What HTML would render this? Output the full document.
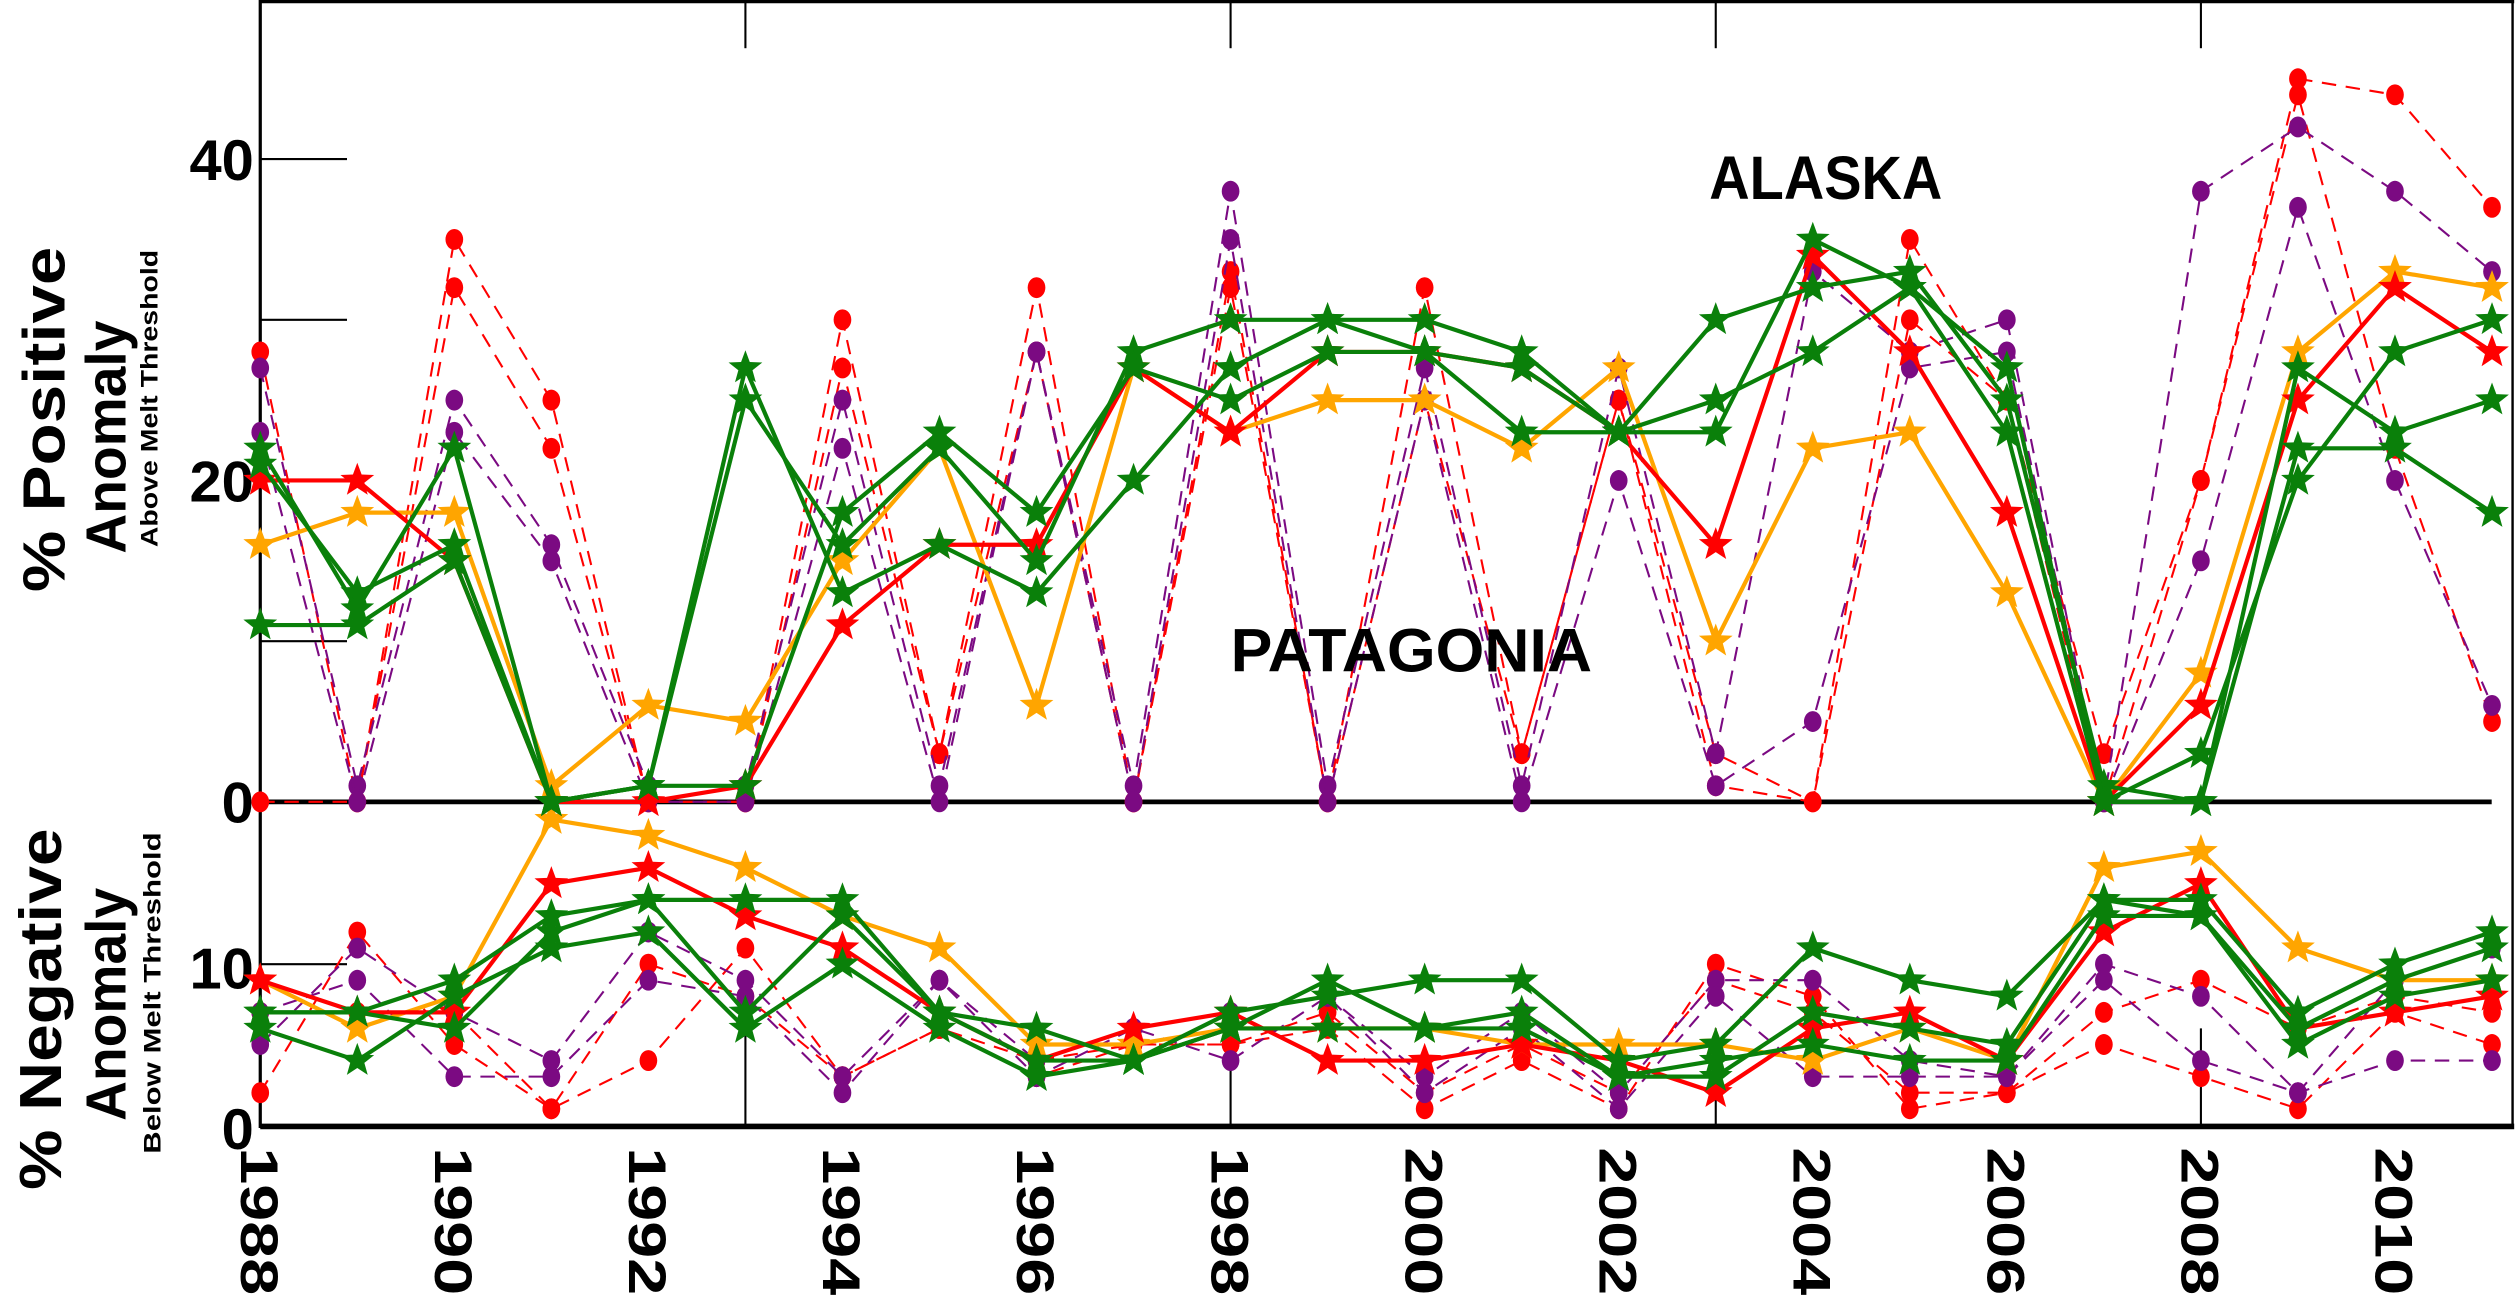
<!DOCTYPE html>
<html><head><meta charset="utf-8"><style>
html,body{margin:0;padding:0;background:#fff;}
svg{display:block;}
text{font-family:"Liberation Sans",sans-serif;}
</style></head>
<body>
<svg id="chart" width="2519" height="1300" viewBox="0 0 1568 809" preserveAspectRatio="none" xmlns="http://www.w3.org/2000/svg">
  <rect x="0" y="0" width="1568" height="809" fill="#fff"/>
  <g id="frame">
    <line x1="162" y1="0" x2="162" y2="702" stroke="#000" stroke-width="2"/>
    <line x1="162" y1="1" x2="1565" y2="1" stroke="#000" stroke-width="2"/>
    <line x1="1564" y1="0" x2="1564" y2="702" stroke="#000" stroke-width="1.5"/>
    <line x1="162" y1="701" x2="1565" y2="701" stroke="#000" stroke-width="3.5"/>
    <line x1="162" y1="499" x2="1551" y2="499" stroke="#000" stroke-width="3"/>
  </g>
  <g id="ticks"></g>
  <g id="series"></g>
  <text x="1064" y="124" font-size="38" font-weight="bold" textLength="145" lengthAdjust="spacingAndGlyphs">ALASKA</text>
  <text x="766" y="418" font-size="38" font-weight="bold" textLength="225" lengthAdjust="spacingAndGlyphs">PATAGONIA</text>
  <g>
    <text transform="translate(40,261) rotate(-90)" text-anchor="middle" font-size="37" font-weight="bold" textLength="215" lengthAdjust="spacingAndGlyphs">% Positive</text>
    <text transform="translate(78,272) rotate(-90)" text-anchor="middle" font-size="35" font-weight="bold" textLength="145" lengthAdjust="spacingAndGlyphs">Anomaly</text>
    <text transform="translate(98,248) rotate(-90)" text-anchor="middle" font-size="15" font-weight="bold" textLength="185" lengthAdjust="spacingAndGlyphs">Above Melt Threshold</text>
  </g>
  <g>
    <text transform="translate(38,628) rotate(-90)" text-anchor="middle" font-size="37" font-weight="bold" textLength="225" lengthAdjust="spacingAndGlyphs">% Negative</text>
    <text transform="translate(78,625) rotate(-90)" text-anchor="middle" font-size="35" font-weight="bold" textLength="145" lengthAdjust="spacingAndGlyphs">Anomaly</text>
    <text transform="translate(100,618) rotate(-90)" text-anchor="middle" font-size="15" font-weight="bold" textLength="200" lengthAdjust="spacingAndGlyphs">Below Melt Threshold</text>
  </g>
</svg>
<script>
const years = [1988,1989,1990,1991,1992,1993,1994,1995,1996,1997,1998,1999,2000,2001,2002,2003,2004,2005,2006,2007,2008,2009,2010,2011];
const posTickValues = [0,20,40];
const negTickValues = [0,10];
const yearTickLabels = [1988,1990,1992,1994,1996,1998,2000,2002,2004,2006,2008,2010];

// positive panel (above melt threshold)
const posRedStar = [20,20,15,0,0,1,11,16,16,27,23,28,28,27,23,16,34,28,18,0,6,25,32,28];
const posOrangeStar = [16,18,18,1,6,5,15,22,6,27,23,25,25,22,27,10,22,23,13,0,8,28,33,32];
const posGreenStarA = [21,13,16,0,1,25,16,22,15,28,30,30,30,28,23,30,32,33,25,1,0,27,23,25];
const posGreenStarB = [11,11,15,0,1,1,18,23,18,27,25,28,28,23,23,23,35,32,27,0,3,20,28,30];
const posGreenStarC = [22,12,22,0,1,27,13,16,13,20,27,30,28,27,23,25,28,32,23,0,0,22,22,18];
const posRedDotA = [28,0,35,25,0,0,30,3,32,0,33,0,32,3,25,3,0,35,25,3,20,45,44,37];
const posRedDotB = [0,0,32,22,0,0,27,3,28,0,32,0,25,3,25,1,0,30,25,0,20,44,22,5];
const posPurpleDotA = [27,1,25,16,1,1,25,1,28,1,38,1,27,1,27,3,33,28,30,0,38,42,38,33];
const posPurpleDotB = [23,0,23,15,0,0,22,0,28,0,35,0,25,0,20,1,5,27,28,0,15,37,20,6];

// negative panel (below melt threshold)
const negRedStar = [9,7,7,15,16,13,11,7,4,6,7,4,4,5,4,2,6,7,4,12,15,6,7,8];
const negOrangeStar = [9,6,8,19,18,16,13,11,5,5,6,6,6,5,5,5,4,6,4,16,17,11,9,9];
const negGreenStarA = [7,7,9,13,14,14,14,7,6,4,7,8,9,9,4,5,11,9,8,14,14,7,10,12];
const negGreenStarB = [6,4,8,11,12,6,10,6,3,4,6,9,6,7,3,4,5,4,4,13,13,5,8,9];
const negGreenStarC = [7,7,6,12,14,7,13,7,4,4,6,6,6,6,3,3,7,6,5,14,13,6,9,11];
const negRedDotA = [2,12,5,1,4,11,3,6,4,5,5,6,1,4,1,10,8,1,2,7,9,6,8,7];
const negRedDotB = [7,7,7,1,10,8,3,6,3,5,5,7,2,5,2,9,7,2,2,5,3,1,7,5];
const negPurpleDotA = [5,11,7,4,12,9,3,9,4,6,7,8,3,7,2,9,9,4,3,10,8,2,9,11];
const negPurpleDotB = [7,9,3,3,9,8,2,9,3,6,4,8,2,6,1,8,3,3,3,9,4,2,4,4];

const NS = "http://www.w3.org/2000/svg";
function xScale(yr){ return 162 + 60.4*(yr-1988); }
function yPos(v){ return 499 - 10*v; }
function yNeg(v){ return 700 - 10*v; }
function mk(tag, attrs, parent){
  const e = document.createElementNS(NS, tag);
  for (const k in attrs) e.setAttribute(k, attrs[k]);
  parent.appendChild(e);
  return e;
}
const ticks = document.getElementById('ticks');
posTickValues.forEach(v=>{
  const t = mk('text',{x:158,y:yPos(v)+13,'text-anchor':'end','font-size':36,'font-weight':'bold','font-family':'DejaVu Sans, sans-serif'},ticks);
  t.textContent = v;
  
  
});
[10,20,30,40].forEach(v=>{
  const l = mk('line',{x1:162,y1:yPos(v),x2:216,y2:yPos(v),stroke:'#000','stroke-width':1.3},ticks);
  
  
});
negTickValues.forEach(v=>{
  const t = mk('text',{x:158,y:yNeg(v)+15,'text-anchor':'end','font-size':36,'font-weight':'bold','font-family':'DejaVu Sans, sans-serif'},ticks);
  t.textContent = v;
  
  
});
mk('line',{x1:162,y1:yNeg(10),x2:216,y2:yNeg(10),stroke:'#000','stroke-width':1.3},ticks);
[1993,1998,2003,2008].forEach(yr=>{
  const x = xScale(yr);
  const a = mk('line',{x1:x,y1:0,x2:x,y2:30,stroke:'#000','stroke-width':1.3},ticks);
  
  
  const b = mk('line',{x1:x,y1:640,x2:x,y2:700,stroke:'#000','stroke-width':1.3},ticks);
  
  
});
yearTickLabels.forEach(yr=>{
  const x = xScale(yr);
  const t = mk('text',{transform:`translate(${x-12},714) rotate(90)`,'font-size':33,'font-weight':'bold','font-family':'DejaVu Sans, sans-serif',textLength:92,lengthAdjust:'spacingAndGlyphs'},ticks);
  t.textContent = yr;
  
  
});

const series = document.getElementById('series');
function starPts(cx,cy,R){
  const r = R*0.42, p=[];
  for(let i=0;i<10;i++){
    const a = -Math.PI/2 + i*Math.PI/5, rr = i%2?r:R;
    p.push((cx+rr*Math.cos(a)).toFixed(1)+','+(cy+rr*Math.sin(a)).toFixed(1));
  }
  return p.join(' ');
}
function drawDot(vals, yf, color, name){
  const g = mk('g',{},series);
  
  
  const pts = vals.map((v,i)=>xScale(years[i])+','+yf(v)).join(' ');
  mk('polyline',{points:pts,fill:'none',stroke:color,'stroke-width':1.3,'stroke-dasharray':'9,6'},g);
  vals.forEach((v,i)=>{
    const c = mk('ellipse',{cx:xScale(years[i]),cy:yf(v),rx:5.5,ry:6.5,fill:color},g);
    
    
  });
}
function drawStar(vals, yf, color, name){
  const g = mk('g',{},series);
  
  
  const pts = vals.map((v,i)=>xScale(years[i])+','+yf(v)).join(' ');
  mk('polyline',{points:pts,fill:'none',stroke:color,'stroke-width':2.6,'stroke-linejoin':'round'},g);
  vals.forEach((v,i)=>{
    const s = mk('polygon',{points:starPts(xScale(years[i]),yf(v),11),fill:color},g);
    
    
  });
}
const purple = '#7b0a82', red = '#ff0000', orange = '#ffa500', green = '#0a800a';
drawDot(posRedDotA, yPos, red, 'pos-red-dashed-a');
drawDot(posRedDotB, yPos, red, 'pos-red-dashed-b');
drawDot(posPurpleDotA, yPos, purple, 'pos-purple-dashed-a');
drawDot(posPurpleDotB, yPos, purple, 'pos-purple-dashed-b');
drawDot(negRedDotA, yNeg, red, 'neg-red-dashed-a');
drawDot(negRedDotB, yNeg, red, 'neg-red-dashed-b');
drawDot(negPurpleDotA, yNeg, purple, 'neg-purple-dashed-a');
drawDot(negPurpleDotB, yNeg, purple, 'neg-purple-dashed-b');
drawStar(posOrangeStar, yPos, orange, 'pos-orange-star');
drawStar(negOrangeStar, yNeg, orange, 'neg-orange-star');
drawStar(posRedStar, yPos, red, 'pos-red-star');
drawStar(negRedStar, yNeg, red, 'neg-red-star');
drawStar(posGreenStarA, yPos, green, 'pos-green-star-a');
drawStar(posGreenStarB, yPos, green, 'pos-green-star-b');
drawStar(posGreenStarC, yPos, green, 'pos-green-star-c');
drawStar(negGreenStarA, yNeg, green, 'neg-green-star-a');
drawStar(negGreenStarB, yNeg, green, 'neg-green-star-b');
drawStar(negGreenStarC, yNeg, green, 'neg-green-star-c');
</script>
</body></html>
